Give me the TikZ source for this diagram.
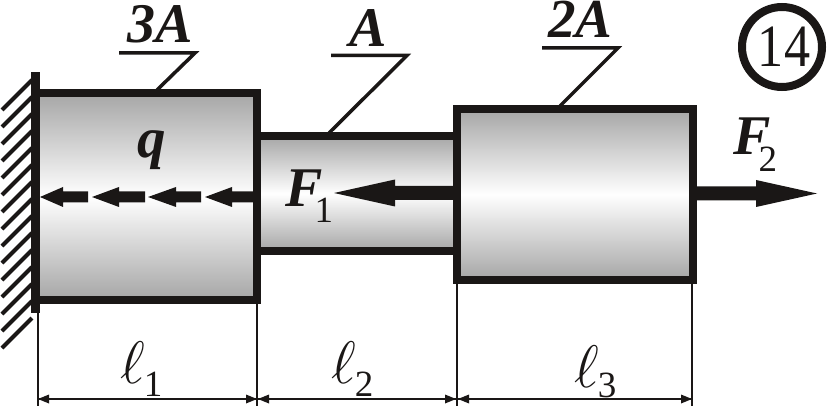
\RequirePackage{fix-cm}
\documentclass[tikz,border=0pt]{standalone}
\usepackage{fontspec}
\setmainfont{Liberation Serif}
\newcommand{\fsz}[1]{\fontsize{#1}{#1}\selectfont}
\tikzset{
  body/.style={top color=gray!70,bottom color=gray!70,middle color=white,draw=none},
  wall/.style={draw=ink,line width=8pt,line join=miter,line cap=rect},
  leader/.style={draw=ink,line width=3.5pt,line join=miter},
  hatchline/.style={draw=ink,line width=4pt},
  solidarrow/.style={fill=ink,draw=none},
  dimline/.style={draw=ink,line width=2pt},
  dimtip/.style={fill=ink,draw=none},
  lab/.style={anchor=base west,inner sep=0pt,text=ink},
}
\definecolor{ink}{HTML}{1A1716}
% horizontal block arrow: tip x, head base x, shaft end x, y, half shaft, half head
\newcommand{\blockarrow}[6]{\fill[solidarrow] (#1,#4) -- (#2,#4-#6) -- (#2,#4-#5) -- (#3,#4-#5) -- (#3,#4+#5) -- (#2,#4+#5) -- (#2,#4+#6) -- cycle;}
\newcommand{\dimarrow}[2]{\fill[dimtip] (#1,399) -- (#2,394.5) -- (#2,403.5) -- cycle;}
\begin{document}
\begin{tikzpicture}[x=1pt,y=-1pt]
\useasboundingbox (0,0) rectangle (827,406);
\fill[white] (0,0) rectangle (827,406);
% bodies
\shade[body] (36,93) rectangle (257,300);
\shade[body] (257,136) rectangle (457,251);
\shade[body] (457,109) rectangle (693,280);
% F1 shaft etc.
\blockarrow{334}{395}{456}{193}{7}{13.5}
\draw[wall] (257,136) -- (457,136);
\draw[wall] (257,251) -- (457,251);
\draw[wall] (36,93) rectangle (257,300);
\draw[wall] (457,109) rectangle (693,280);
% support
\fill[ink] (31,72) rectangle (40,313);
\foreach \k in {0,...,14}
  \draw[hatchline] (2,110+17*\k) -- (32,80+17*\k);
% distributed load
\blockarrow{40}{63}{88}{197}{5.5}{10}
\blockarrow{92}{119}{145}{197}{5.5}{10}
\blockarrow{148}{176}{201}{197}{5.5}{10}
\blockarrow{205}{232}{254}{197}{5.5}{10}
% F2
\blockarrow{817}{756}{696}{193.5}{7}{13.5}
% leaders
\coordinate (a1) at (119,53); \coordinate (a2) at (195,53); \coordinate (a3) at (157,90);
\coordinate (b1) at (331,55.5); \coordinate (b2) at (407,55.5); \coordinate (b3) at (329,133);
\coordinate (c1) at (542,48); \coordinate (c2) at (618,48); \coordinate (c3) at (560,106);
\draw[leader] (a1) -- (a2) -- (a3);
\draw[leader] (b1) -- (b2) -- (b3);
\draw[leader] (c1) -- (c2) -- (c3);
% dimensions
\coordinate (d0) at (38,304); \coordinate (d1) at (257,304); \coordinate (d2) at (457,284); \coordinate (d3) at (692,284);
\draw[dimline] (d0) -- (38,406);
\draw[dimline] (d1) -- (257,406);
\draw[dimline] (d2) -- (457,406);
\draw[dimline] (d3) -- (692,406);
\draw[dimline] (38,399) -- (692,399);
\dimarrow{38}{49}\dimarrow{257}{246}
\dimarrow{258}{269}\dimarrow{456}{445}
\dimarrow{458}{469}\dimarrow{692}{681}
% labels
\node[lab] (l3A) at (127,43) {\fsz{56}\bfseries\itshape 3A};
\node[lab] (lA) at (349,47) {\fsz{56}\bfseries\itshape A};
\node[lab] (l2A) at (548,38) {\fsz{55}\bfseries\itshape 2A};
\node[lab] (lq) at (137,158) {\fsz{57}\bfseries\itshape q};
\node[lab] (lF1) at (285,207) {\fsz{56}\bfseries\itshape F\kern-8pt\raisebox{-16pt}{\normalfont\fsz{37}1}};
\node[lab] (lF2) at (733,155) {\fsz{56}\bfseries\itshape F\kern-12pt\raisebox{-17pt}{\normalfont\fsz{37}2}};
\node[lab] (ll1) at (120,383) {\fsz{60}$\ell$\kern-1pt\raisebox{-13pt}{\fsz{37}1}};
\node[lab] (ll2) at (331,383) {\fsz{60}$\ell$\kern-1pt\raisebox{-13pt}{\fsz{37}2}};
\node[lab] (ll3) at (574,387) {\fsz{60}$\ell$\kern-1pt\raisebox{-10pt}{\fsz{37}3}};
% number
\draw[ink,line width=8pt] (782,47) circle (40pt);
\node[text=ink,inner sep=0pt,xscale=.87] (numt) at (784,47) {\fsz{60}14};
\end{tikzpicture}
\end{document}
